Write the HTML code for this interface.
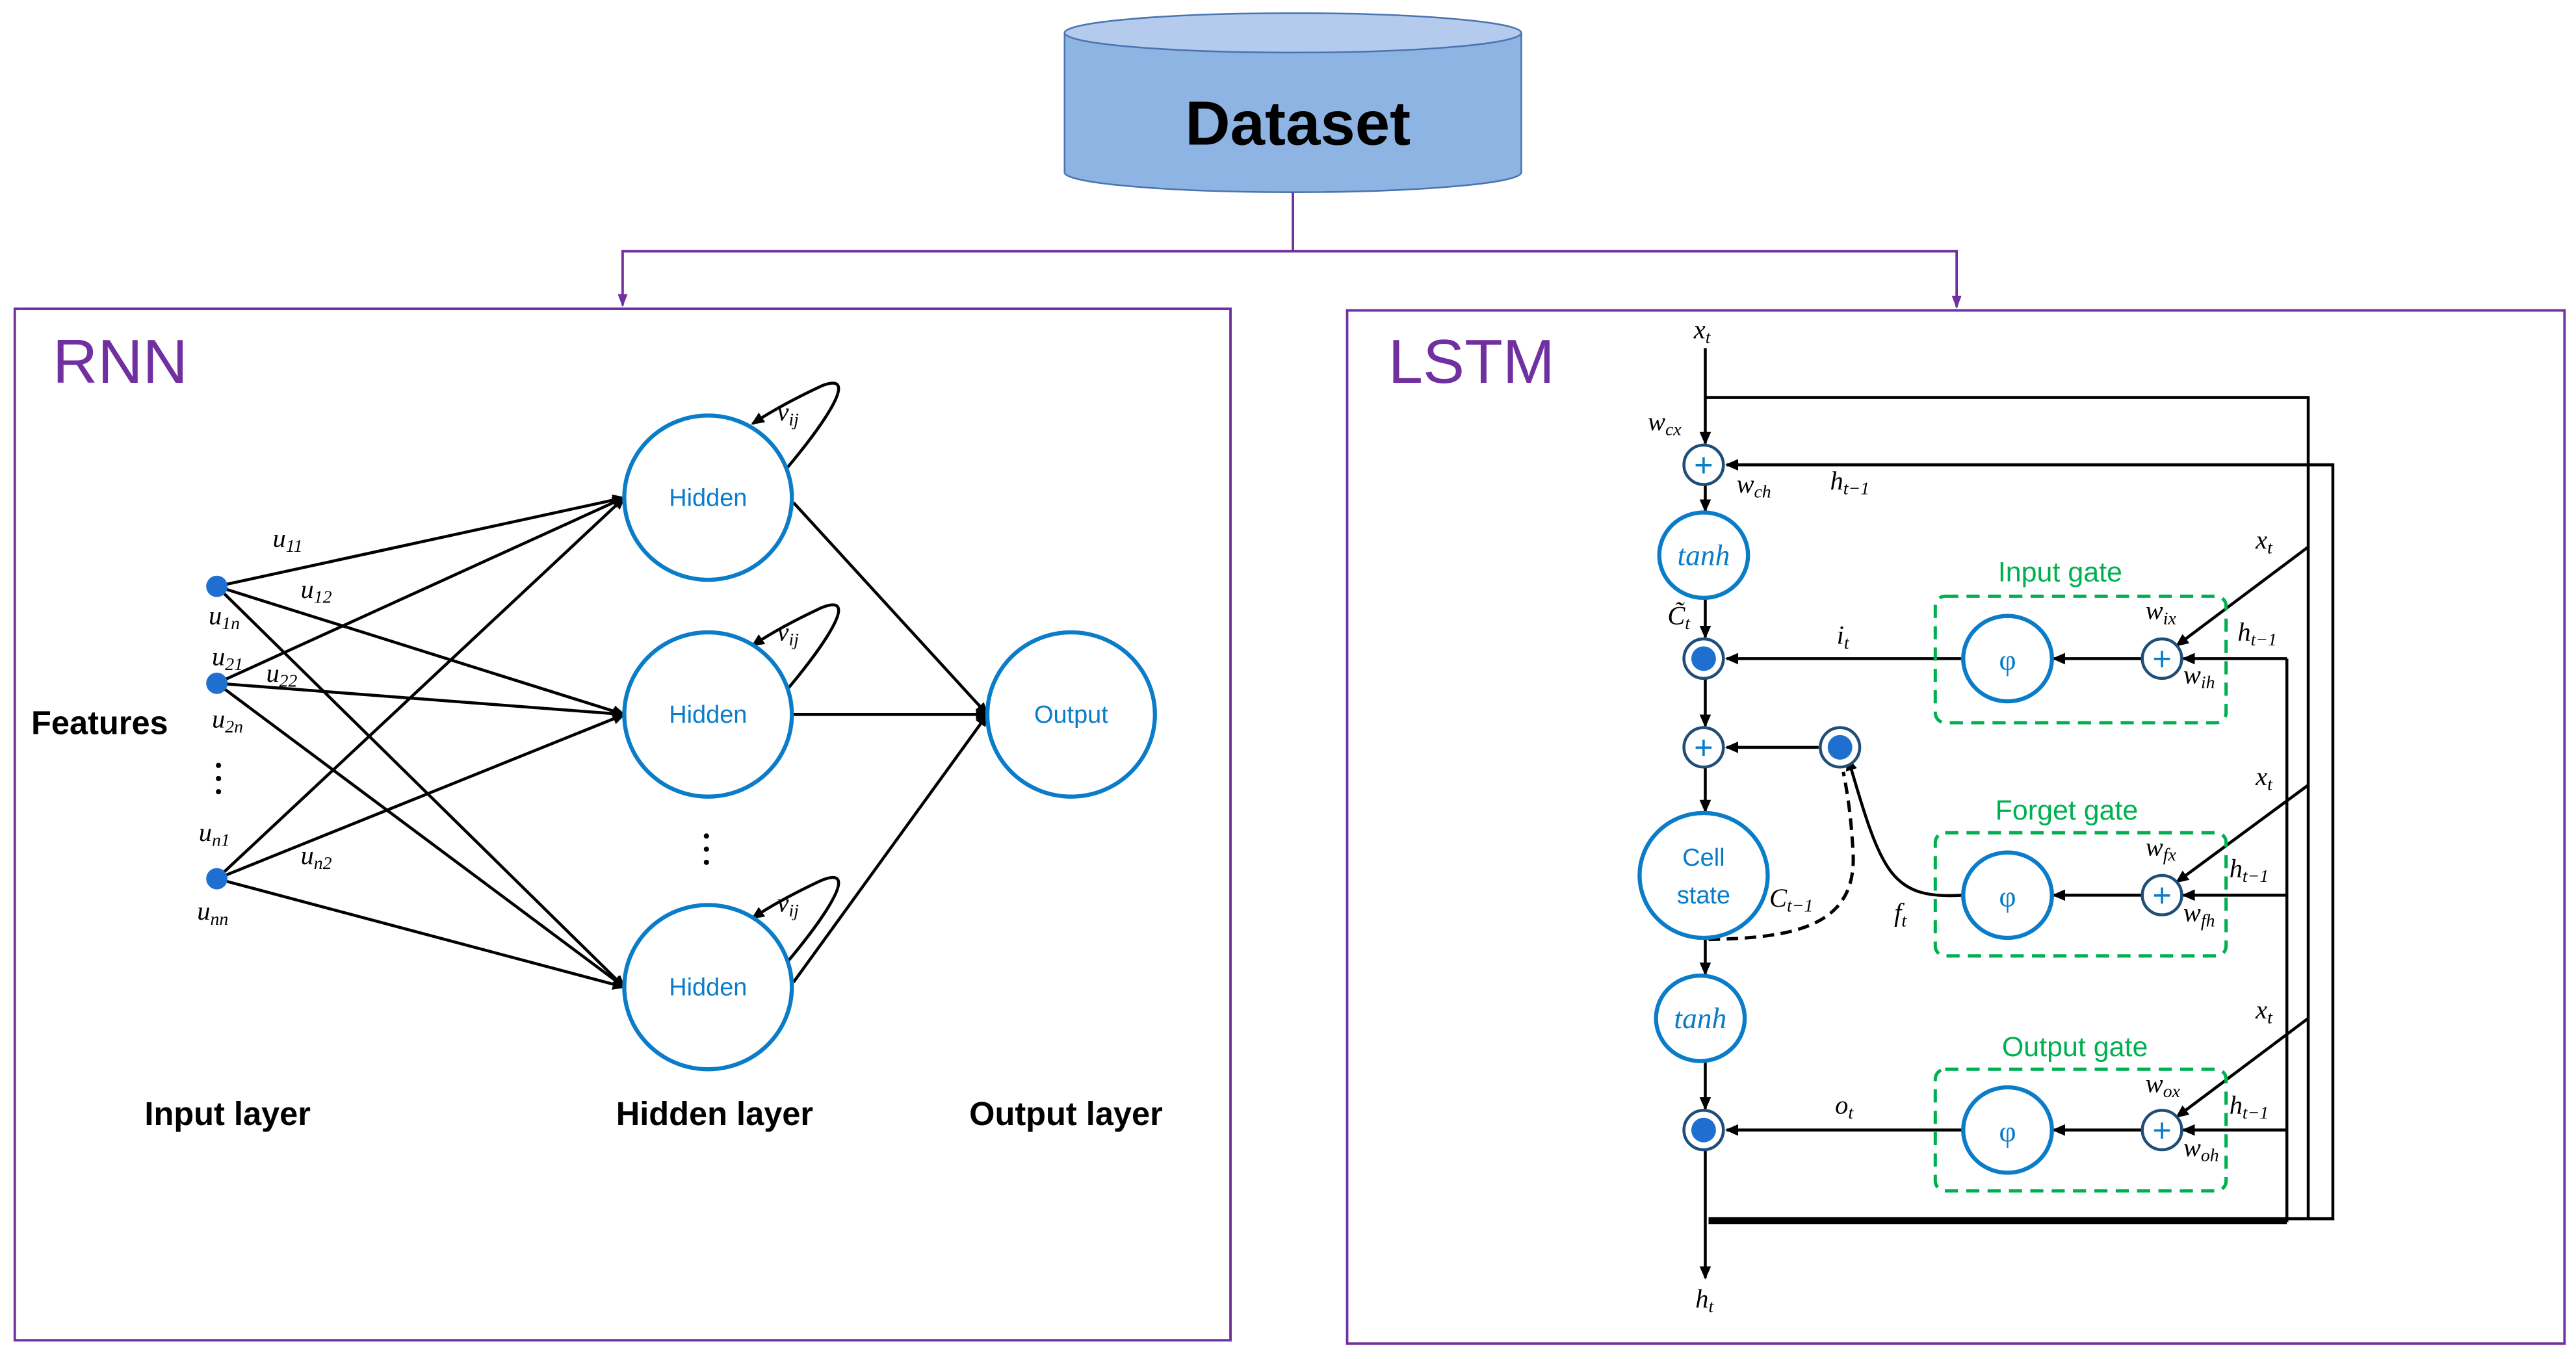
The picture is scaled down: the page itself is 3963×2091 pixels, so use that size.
<!DOCTYPE html>
<html><head><meta charset="utf-8"><style>html,body{margin:0;padding:0;background:#fff}svg{display:block}</style></head>
<body>
<svg width="3963" height="2091" viewBox="0 0 1568 827.4" preserveAspectRatio="none" xmlns="http://www.w3.org/2000/svg" font-family="Liberation Sans, sans-serif">
<defs>
<marker id="a" markerWidth="8" markerHeight="8" refX="7" refY="4" orient="auto" markerUnits="userSpaceOnUse"><path d="M0,0.5 L8,4 L0,7.5 Z" fill="#000"/></marker>
<marker id="p" markerWidth="8" markerHeight="8" refX="7" refY="4" orient="auto" markerUnits="userSpaceOnUse"><path d="M0,1 L8,4 L0,7 Z" fill="#7030a0"/></marker>
</defs>
<!-- Dataset cylinder -->
<path d="M648,20 L648,105 A139,12 0 0 0 926,105 L926,20" fill="#8eb4e3" stroke="#4a74b0" stroke-width="1"/>
<ellipse cx="787" cy="20" rx="139" ry="12" fill="#b4cbee" stroke="#4a74b0" stroke-width="1"/>
<text x="790" y="88" font-size="38" font-weight="bold" text-anchor="middle" fill="#000">Dataset</text>
<!-- purple connectors -->
<g stroke="#7030a0" stroke-width="1.5" fill="none">
<path d="M787,117 V153 H379 V186" marker-end="url(#p)"/>
<path d="M787,153 H1191 V187" marker-end="url(#p)"/>
<rect x="9" y="188" width="740" height="628"/>
<rect x="820" y="189" width="741" height="629"/>
</g>
<text x="32" y="233" font-size="38" fill="#7030a0">RNN</text>
<text x="845" y="233" font-size="38" fill="#7030a0">LSTM</text>
<!-- RNN -->
<g stroke="#000" stroke-width="1.8" fill="none" marker-end="url(#a)">
<line x1="132" y1="357" x2="380" y2="303"/><line x1="132" y1="357" x2="380" y2="435"/><line x1="132" y1="357" x2="380" y2="601"/>
<line x1="132" y1="416" x2="380" y2="303"/><line x1="132" y1="416" x2="380" y2="435"/><line x1="132" y1="416" x2="380" y2="601"/>
<line x1="132" y1="535" x2="380" y2="303"/><line x1="132" y1="535" x2="380" y2="435"/><line x1="132" y1="535" x2="380" y2="601"/>
<line x1="483" y1="306" x2="601" y2="435"/><line x1="483" y1="435" x2="601" y2="435"/><line x1="483" y1="598" x2="601" y2="435"/>
<path d="M479,285 C500,260 525,225 500,235 C485,242 470,250 458,258"/>
<path d="M479,420 C500,395 525,360 500,370 C485,377 470,385 458,393"/>
<path d="M479,586 C500,561 525,526 500,536 C485,543 470,551 458,559"/>
</g>
<g fill="#1f6fd0"><circle cx="132" cy="357" r="6.5"/><circle cx="132" cy="416" r="6.5"/><circle cx="132" cy="535" r="6.5"/></g>
<g fill="#fff" stroke="#0a7cc8" stroke-width="2.5">
<ellipse cx="431" cy="303" rx="51" ry="50"/><ellipse cx="431" cy="435" rx="51" ry="50"/><ellipse cx="431" cy="601" rx="51" ry="50"/><ellipse cx="652" cy="435" rx="51" ry="50"/>
</g>
<g font-size="15" fill="#0a7cc8" text-anchor="middle">
<text x="431" y="308">Hidden</text><text x="431" y="440">Hidden</text><text x="431" y="606">Hidden</text><text x="652" y="440">Output</text>
</g>
<g font-family="Liberation Serif, serif" font-style="italic" font-size="16" fill="#000">
<text x="166" y="333">u<tspan font-size="11" dy="3">11</tspan></text>
<text x="183" y="364">u<tspan font-size="11" dy="3">12</tspan></text>
<text x="127" y="380">u<tspan font-size="11" dy="3">1n</tspan></text>
<text x="129" y="405">u<tspan font-size="11" dy="3">21</tspan></text>
<text x="162" y="415">u<tspan font-size="11" dy="3">22</tspan></text>
<text x="129" y="443">u<tspan font-size="11" dy="3">2n</tspan></text>
<text x="121" y="512">u<tspan font-size="11" dy="3">n1</tspan></text>
<text x="183" y="526">u<tspan font-size="11" dy="3">n2</tspan></text>
<text x="120" y="560">u<tspan font-size="11" dy="3">nn</tspan></text>
<text x="473" y="256">v<tspan font-size="11" dy="3">ij</tspan></text>
<text x="473" y="390">v<tspan font-size="11" dy="3">ij</tspan></text>
<text x="473" y="555">v<tspan font-size="11" dy="3">ij</tspan></text>
</g>
<g fill="#000"><circle cx="133" cy="466" r="1.6"/><circle cx="133" cy="474" r="1.6"/><circle cx="133" cy="482" r="1.6"/>
<circle cx="430" cy="509" r="1.6"/><circle cx="430" cy="517" r="1.6"/><circle cx="430" cy="525" r="1.6"/></g>
<g font-size="20" font-weight="bold" fill="#000">
<text x="19" y="447">Features</text><text x="88" y="685">Input layer</text><text x="375" y="685">Hidden layer</text><text x="590" y="685">Output layer</text>
</g>
<!-- LSTM lines -->
<g stroke="#000" stroke-width="1.8" fill="none">
<line x1="1038" y1="212" x2="1038" y2="270" marker-end="url(#a)"/>
<line x1="1038" y1="295" x2="1038" y2="311" marker-end="url(#a)"/>
<line x1="1038" y1="364" x2="1038" y2="388" marker-end="url(#a)"/>
<line x1="1038" y1="413" x2="1038" y2="442" marker-end="url(#a)"/>
<line x1="1038" y1="467" x2="1038" y2="494" marker-end="url(#a)"/>
<line x1="1038" y1="572" x2="1038" y2="593" marker-end="url(#a)"/>
<line x1="1038" y1="646" x2="1038" y2="675" marker-end="url(#a)"/>
<line x1="1038" y1="700" x2="1038" y2="778" marker-end="url(#a)"/>
<path d="M1038,242 H1405 V742"/>
<path d="M1040,742 H1420 V283 H1051" marker-end="url(#a)"/>
<line x1="1040" y1="744" x2="1392" y2="744" stroke-width="2.5"/>
<line x1="1392" y1="401" x2="1392" y2="744"/>
<line x1="1392" y1="401" x2="1329" y2="401" marker-end="url(#a)"/>
<line x1="1392" y1="545" x2="1329" y2="545" marker-end="url(#a)"/>
<line x1="1392" y1="688" x2="1329" y2="688" marker-end="url(#a)"/>
<line x1="1405" y1="333" x2="1325" y2="393" marker-end="url(#a)"/>
<line x1="1405" y1="478" x2="1325" y2="537" marker-end="url(#a)"/>
<line x1="1405" y1="620" x2="1325" y2="680" marker-end="url(#a)"/>
<line x1="1304" y1="401" x2="1250" y2="401" marker-end="url(#a)"/>
<line x1="1304" y1="545" x2="1250" y2="545" marker-end="url(#a)"/>
<line x1="1304" y1="688" x2="1250" y2="688" marker-end="url(#a)"/>
<line x1="1195" y1="401" x2="1051" y2="401" marker-end="url(#a)"/>
<line x1="1195" y1="688" x2="1051" y2="688" marker-end="url(#a)"/>
<line x1="1107" y1="455" x2="1051" y2="455" marker-end="url(#a)"/>
<path d="M1195,545 C1150,548 1145,530 1125,462" marker-end="url(#a)"/>
<path d="M1040,572 C1090,571 1130,565 1128,520 C1127,500 1125,485 1122,470" stroke-dasharray="7,4" stroke-width="2"/>
</g>
<g fill="none" stroke="#00b050" stroke-width="2" stroke-dasharray="8,5">
<rect x="1178" y="363" width="177" height="77" rx="6"/>
<rect x="1178" y="507" width="177" height="75" rx="6"/>
<rect x="1178" y="651" width="177" height="74" rx="6"/>
</g>
<g font-size="17" fill="#00b050" text-anchor="middle">
<text x="1254" y="354">Input gate</text><text x="1258" y="499">Forget gate</text><text x="1263" y="643">Output gate</text>
</g>
<g fill="#fff" stroke="#0a7cc8" stroke-width="2.5">
<ellipse cx="1037" cy="338" rx="27" ry="26"/><ellipse cx="1035" cy="620" rx="27" ry="26"/>
<ellipse cx="1037" cy="533" rx="39" ry="38"/>
<ellipse cx="1222" cy="401" rx="27" ry="26"/><ellipse cx="1222" cy="545" rx="27" ry="26"/><ellipse cx="1222" cy="688" rx="27" ry="26"/>
</g>
<g fill="#fff" stroke="#1f4e79" stroke-width="1.8">
<circle cx="1037" cy="283" r="12"/><circle cx="1037" cy="455" r="12"/><circle cx="1316" cy="401" r="12"/><circle cx="1316" cy="545" r="12"/><circle cx="1316" cy="688" r="12"/>
<circle cx="1037" cy="401" r="12"/><circle cx="1120" cy="455" r="12"/><circle cx="1037" cy="688" r="12"/>
</g>
<g fill="#1f6fd0"><circle cx="1037" cy="401" r="7.5"/><circle cx="1120" cy="455" r="7.5"/><circle cx="1037" cy="688" r="7.5"/></g>
<g font-size="20" fill="#0a7cc8" text-anchor="middle">
<text x="1037" y="290">+</text><text x="1037" y="462">+</text><text x="1316" y="408">+</text><text x="1316" y="552">+</text><text x="1316" y="695">+</text>
</g>
<g font-family="Liberation Serif, serif" font-size="18" fill="#0a7cc8" text-anchor="middle">
<text x="1222" y="408">φ</text><text x="1222" y="552">φ</text><text x="1222" y="695">φ</text>
<text x="1037" y="344" font-style="italic">tanh</text><text x="1035" y="626" font-style="italic">tanh</text>
</g>
<g font-size="15" fill="#0a7cc8" text-anchor="middle"><text x="1037" y="527">Cell</text><text x="1037" y="550">state</text></g>
<g font-family="Liberation Serif, serif" font-style="italic" font-size="16" fill="#000">
<text x="1031" y="206">x<tspan font-size="11" dy="3">t</tspan></text>
<text x="1003" y="262">w<tspan font-size="11" dy="3">cx</tspan></text>
<text x="1057" y="300">w<tspan font-size="11" dy="3">ch</tspan></text>
<text x="1114" y="298">h<tspan font-size="11" dy="3">t−1</tspan></text>
<text x="1015" y="380">C̃<tspan font-size="11" dy="3">t</tspan></text>
<text x="1118" y="392">i<tspan font-size="11" dy="3">t</tspan></text>
<text x="1077" y="552">C<tspan font-size="11" dy="3">t−1</tspan></text>
<text x="1153" y="561">f<tspan font-size="11" dy="3">t</tspan></text>
<text x="1117" y="678">o<tspan font-size="11" dy="3">t</tspan></text>
<text x="1032" y="796">h<tspan font-size="11" dy="3">t</tspan></text>
<text x="1373" y="334">x<tspan font-size="11" dy="3">t</tspan></text>
<text x="1306" y="377">w<tspan font-size="11" dy="3">ix</tspan></text>
<text x="1362" y="390">h<tspan font-size="11" dy="3">t−1</tspan></text>
<text x="1329" y="416">w<tspan font-size="11" dy="3">ih</tspan></text>
<text x="1373" y="478">x<tspan font-size="11" dy="3">t</tspan></text>
<text x="1306" y="521">w<tspan font-size="11" dy="3">fx</tspan></text>
<text x="1357" y="534">h<tspan font-size="11" dy="3">t−1</tspan></text>
<text x="1329" y="561">w<tspan font-size="11" dy="3">fh</tspan></text>
<text x="1373" y="620">x<tspan font-size="11" dy="3">t</tspan></text>
<text x="1306" y="665">w<tspan font-size="11" dy="3">ox</tspan></text>
<text x="1357" y="678">h<tspan font-size="11" dy="3">t−1</tspan></text>
<text x="1329" y="704">w<tspan font-size="11" dy="3">oh</tspan></text>
</g>
</svg>
</body></html>
